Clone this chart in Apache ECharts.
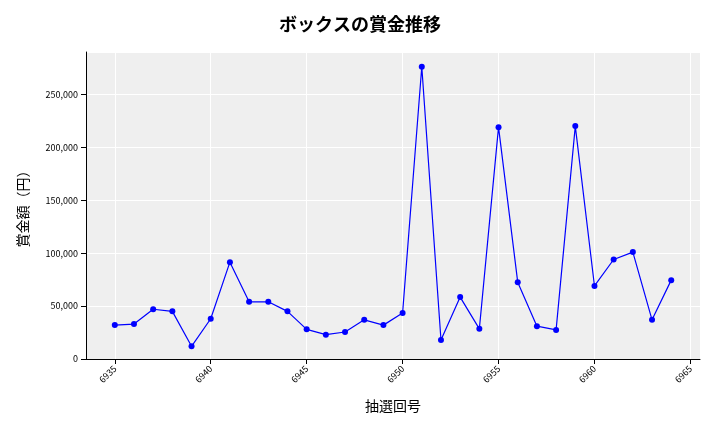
<!DOCTYPE html>
<html>
<head>
<meta charset="utf-8">
<script src="https://cdn.jsdelivr.net/npm/echarts@6/dist/echarts.min.js"></script>
<style>body{margin:0}#c{width:720px;height:432px}</style>
</head>
<body>
<div id="c"></div>
<script>
// 抽選回と賞金
const rounds = [6935,6936,6937,6938,6939,6940,6941,6942,6943,6944,6945,6946,6947,6948,6949,
  6950,6951,6952,6953,6954,6955,6956,6957,6958,6959,6960,6961,6962,6963,6964];
const prizes = [32000,33000,47000,45000,12000,38000,91500,54000,54000,45000,28000,23000,25500,37000,32000,
  43500,276000,18000,58500,28500,219000,72600,31000,27500,220000,69000,94000,101000,37000,74500];
const xTicks = [6935,6940,6945,6950,6955,6960,6965];

const font = '"Noto Sans CJK JP", sans-serif';
const chart = echarts.init(document.getElementById('c'));
chart.setOption({
  animation: false,
  title: {text: 'ボックスの賞金推移', left: 'center', top: 10,
    textStyle: {fontFamily: font, fontSize: 18, fontWeight: 'bold', color: '#000'}},
  grid: {left: 86, right: 20, top: 52, bottom: 73, backgroundColor: '#efefef', show: true, borderWidth: 0},
  xAxis: {
    type: 'value', min: 6933.5, max: 6965.5,
    name: '抽選回号', nameLocation: 'middle', nameGap: 40,
    nameTextStyle: {fontFamily: font, fontSize: 14, color: '#000'},
    axisLine: {lineStyle: {color: '#000'}},
    axisTick: {show: true, customValues: xTicks, lineStyle: {color: '#000'}},
    axisLabel: {customValues: xTicks, rotate: 45, fontSize: 9, color: '#000', fontFamily: font,
      formatter: v => String(v)},
    splitLine: {show: true, lineStyle: {color: '#fff'}}
  },
  yAxis: {
    type: 'value', min: 0, max: 290000, interval: 50000,
    name: '賞金額（円）', nameLocation: 'middle', nameGap: 56, nameRotate: 90,
    nameTextStyle: {fontFamily: font, fontSize: 14, color: '#000'},
    axisLine: {show: true, lineStyle: {color: '#000'}},
    axisTick: {show: true, lineStyle: {color: '#000'}},
    axisLabel: {fontSize: 9, color: '#000', fontFamily: font, showMaxLabel: false,
      formatter: v => v.toLocaleString('en-US')},
    splitLine: {show: true, lineStyle: {color: '#fff'}}
  },
  series: [{
    type: 'line',
    data: rounds.map((r, i) => [r, prizes[i]]),
    symbol: 'circle', symbolSize: 6,
    lineStyle: {color: '#0000ff', width: 1.2},
    itemStyle: {color: '#0000ff'}
  }]
});
</script>
</body>
</html>
